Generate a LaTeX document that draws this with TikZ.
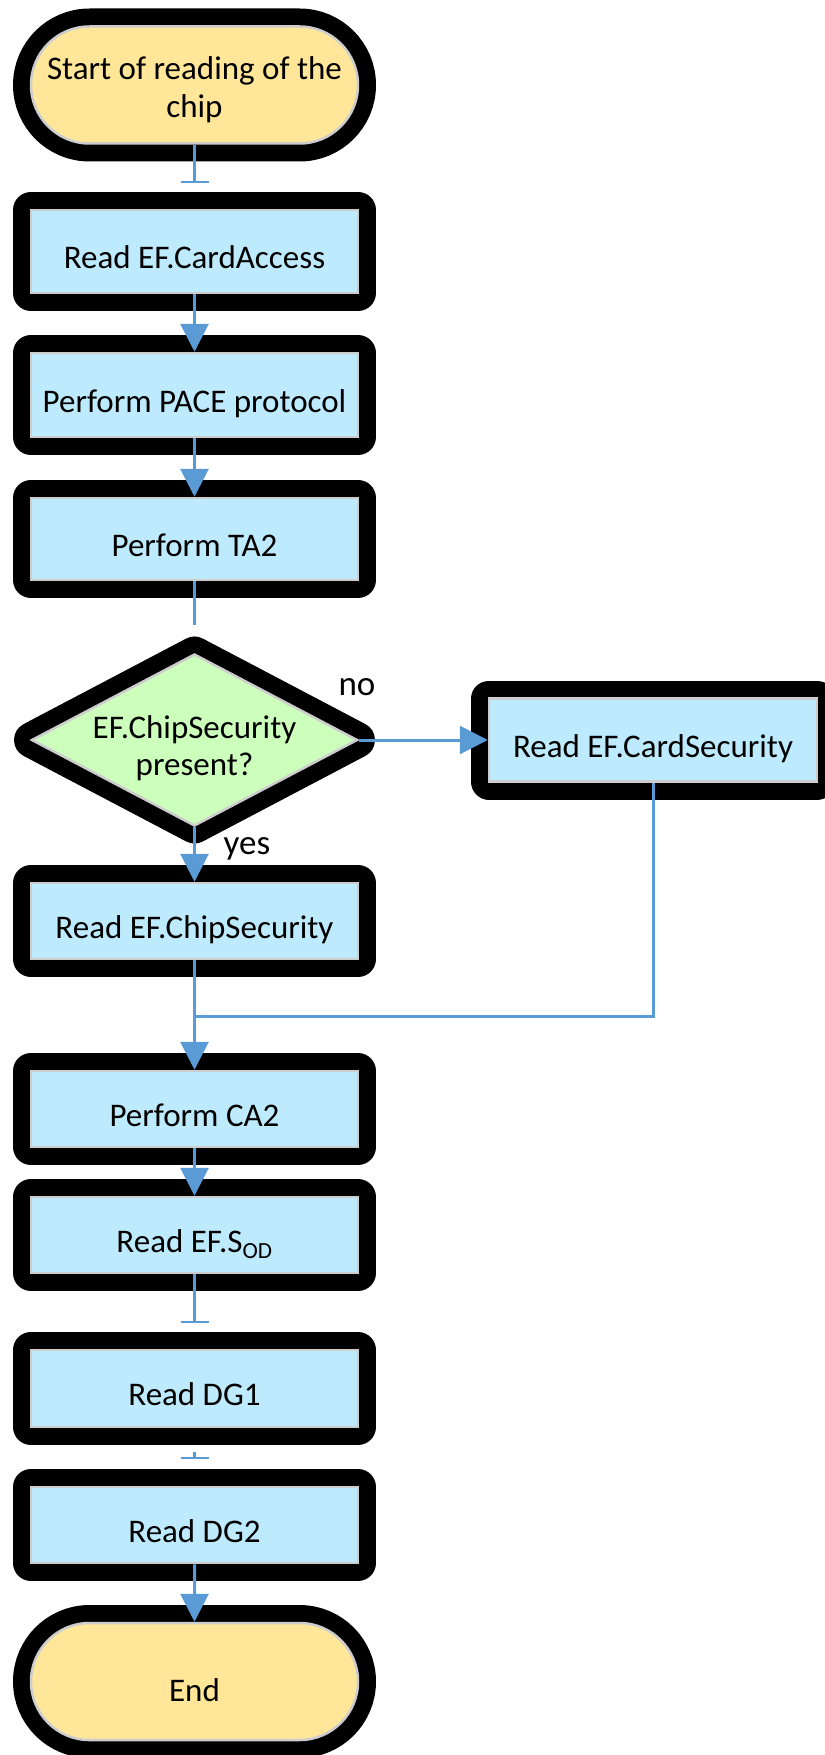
\documentclass[tikz,border=0pt]{standalone}
\usepackage{fontspec}
\setmainfont{Carlito}
\usetikzlibrary{shapes.geometric,shapes.misc,arrows.meta}
\definecolor{procfill}{HTML}{BDEBFD}
\definecolor{termfill}{HTML}{FFE699}
\definecolor{decfill}{HTML}{CCFFBB}
\definecolor{rim}{HTML}{CDCDCD}
\definecolor{flow}{HTML}{5B9BD5}
\begin{document}
\begin{tikzpicture}[x=1pt,y=-1pt,
  halo/.style={preaction={draw=black,line width=36pt,line join=round}},
  shapebase/.style={halo,draw=rim,line width=2.5pt,inner sep=0pt,
    font=\fontsize{33}{38}\selectfont,text=black},
  process/.style={shapebase,rectangle,fill=procfill,minimum width=327pt,
    minimum height=76pt,text height=34pt,text depth=0pt},
  terminal/.style={shapebase,rounded rectangle,fill=termfill,
    minimum width=327pt,minimum height=117pt},
  decision/.style={shapebase,diamond,fill=decfill,
    minimum width=326pt,minimum height=172pt},
  caption/.style={font=\fontsize{33}{37}\selectfont,align=center,inner sep=0pt},
  tag/.style={font=\fontsize{35}{40}\selectfont,inner sep=0pt,anchor=base},
  flowline/.style={draw=flow,line width=3pt},
  flowarrow/.style={flowline,-{Triangle[length=28pt,width=28pt]}},
  flowstop/.style={flowline,-{Bar[width=28pt,line width=2pt]}},
]
\useasboundingbox (0,0) rectangle (824,1755);

% terminals (multi-line text: the box baseline is the last line)
\node[terminal,align=center,text height=66pt,text depth=0pt] (start) at (194.5,85)
  {Start of reading of the\\chip};
\node[terminal,text height=39pt,text depth=0pt] (end) at (194.5,1681.5) {End};

% process steps
\node[process,minimum height=83pt] (cardaccess) at (194.5,251.5) {Read EF.CardAccess};
\node[process,minimum height=84pt] (pace) at (194.5,395) {Perform PACE protocol};
\node[process,minimum height=82pt] (ta2) at (194.5,539) {Perform TA2};
\node[process,minimum width=328pt,minimum height=83pt] (cardsec) at (653,740)
  {Read EF.CardSecurity};
\node[process] (chipsec) at (194.5,921) {Read EF.ChipSecurity};
\node[process] (ca2) at (194.5,1109) {Perform CA2};
\node[process] (sod) at (194.5,1235) {Read EF.S\textsubscript{OD}};
\node[process,minimum height=77pt] (dg1) at (194.5,1388.5) {Read DG1};
\node[process] (dg2) at (194.5,1525) {Read DG2};

% decision
\node[decision] (dec) at (194.5,740) {};
\node[caption,text height=70pt,text depth=0pt] (dectext) at (194.5,740)
  {EF.ChipSecurity\\present?};
\node[tag] (nolabel) at (357,695) {no};
\node[tag] (yeslabel) at (247,854) {yes};

% connectors
\coordinate (stop1) at (194.5,183);
\coordinate (ta2end) at (194.5,625);
\coordinate (merge) at (194.5,1016);
\coordinate (stop2) at (194.5,1323);
\coordinate (stop3) at (194.5,1459);

\draw[flowstop] (start) -- (stop1);
\draw[flowarrow] (cardaccess) -- (pace);
\draw[flowarrow] (pace) -- (ta2);
\draw[flowline] (ta2) -- (ta2end);
\draw[flowarrow] (dec.east) -- (cardsec.west);
\draw[flowarrow] (dec.south) -- (chipsec.north);
\draw[flowline] (cardsec.south) |- (merge);
\draw[flowarrow] (chipsec) -- (ca2);
\draw[flowarrow] (ca2) -- (sod);
\draw[flowstop] (sod) -- (stop2);
\draw[flowstop,shorten <=24pt] (dg1) -- (stop3);
\draw[flowarrow] (dg2) -- (end);
\end{tikzpicture}
\end{document}
